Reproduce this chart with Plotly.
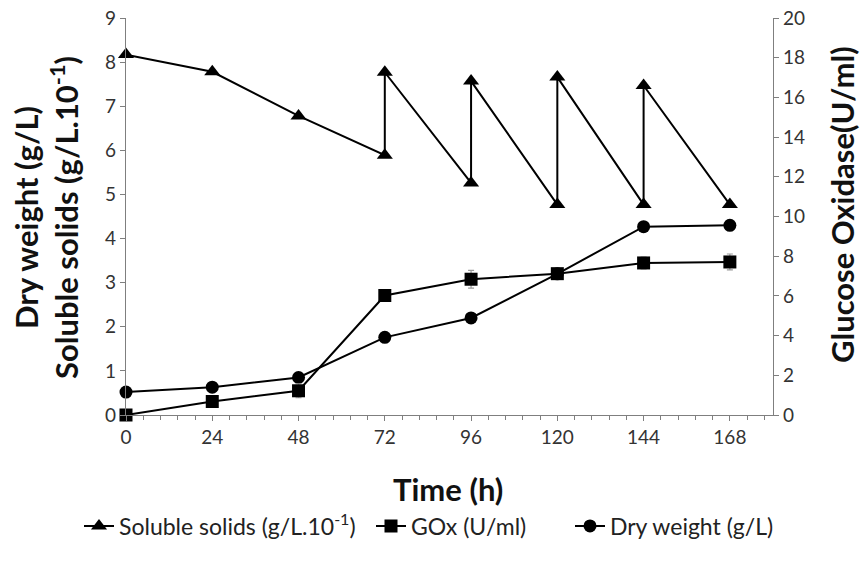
import plotly.graph_objects as go

# ---- data ----
ss_time = [0, 24, 48, 72, 72, 96, 96, 120, 120, 144, 144, 168]
ss_vals = [8.17, 7.78, 6.78, 5.89, 7.77, 5.26, 7.57, 4.77, 7.66, 4.77, 7.47, 4.77]

time = [0, 24, 48, 72, 96, 120, 144, 168]
gox_vals = [0.0, 0.68, 1.22, 6.02, 6.84, 7.12, 7.66, 7.71]
gox_err = [0.05, 0.3, 0.35, 0.3, 0.45, 0.2, 0.3, 0.4]
dw_vals = [0.52, 0.63, 0.85, 1.76, 2.2, 3.2, 4.27, 4.3]
dw_err = [0.03, 0.03, 0.04, 0.05, 0.05, 0.05, 0.05, 0.05]

x_ticks = [0, 24, 48, 72, 96, 120, 144, 168]

FONT = "Lato"
L, R, T, B = 126, 92, 18, 147
W, H = 865, 562
pw = W - L - R
ph = H - T - B

def px(xp):
    return (xp - L) / pw

def py(yp):
    return (H - B - yp) / ph

fig = go.Figure()
fig.add_trace(go.Scatter(
    x=ss_time, y=ss_vals, mode="lines+markers",
    name="Soluble solids (g/L.10<sup>-1</sup>)",
    line=dict(color="black", width=2),
    marker=dict(symbol="triangle-up", size=14, color="black"),
    cliponaxis=False, legend="legend"))
fig.add_trace(go.Scatter(
    x=time, y=gox_vals, mode="lines+markers", name="GOx (U/ml)", yaxis="y2",
    line=dict(color="black", width=2),
    marker=dict(symbol="square", size=13, color="black"),
    error_y=dict(type="data", array=gox_err, color="#9a9a9a", thickness=1.2, width=3),
    cliponaxis=False, legend="legend2"))
fig.add_trace(go.Scatter(
    x=time, y=dw_vals, mode="lines+markers", name="Dry weight (g/L)",
    line=dict(color="black", width=2),
    marker=dict(symbol="circle", size=13, color="black"),
    error_y=dict(type="data", array=dw_err, color="#9a9a9a", thickness=1.2, width=3),
    cliponaxis=False, legend="legend3"))

axis_common = dict(showgrid=False, zeroline=False, showline=True, linecolor="#7f7f7f",
                   linewidth=1.2, ticks="outside", tickcolor="#7f7f7f", ticklen=5,
                   tickfont=dict(family=FONT, size=19, color="#333333"))

leg_font = dict(family=FONT, size=23, color="#222222")

fig.update_layout(
    width=W, height=H, margin=dict(l=L, r=R, t=T, b=B, autoexpand=False),
    paper_bgcolor="white", plot_bgcolor="white",
    font=dict(family=FONT, color="#222222"),
    xaxis=dict(range=[0, 180], tickvals=x_ticks, ticktext=[str(v) for v in x_ticks],
               minor=dict(dtick=4.8, tick0=0, ticks="outside", ticklen=4, tickcolor="#7f7f7f"),
               **axis_common),
    yaxis=dict(range=[0, 9], dtick=1, **axis_common),
    yaxis2=dict(range=[0, 20], dtick=2, overlaying="y", side="right", **axis_common),
    showlegend=True,
    legend=dict(x=px(79), y=py(526), xanchor="left", yanchor="middle",
                font=leg_font, bgcolor="rgba(0,0,0,0)"),
    legend2=dict(x=px(371), y=py(526), xanchor="left", yanchor="middle",
                 font=leg_font, bgcolor="rgba(0,0,0,0)"),
    legend3=dict(x=px(570), y=py(526), xanchor="left", yanchor="middle",
                 font=leg_font, bgcolor="rgba(0,0,0,0)"),
    annotations=[
        dict(text="<b>Dry weight (g/L)<br>Soluble solids (g/L.10<sup>-1</sup>)</b>",
             xref="paper", yref="paper", x=px(46), y=py(218), textangle=-90,
             showarrow=False, align="center", xanchor="center", yanchor="middle",
             font=dict(family=FONT, size=31, color="#111111")),
        dict(text="<b>Glucose Oxidase(U/ml)</b>", xref="paper", yref="paper",
             x=px(842), y=py(205), textangle=-90, showarrow=False,
             xanchor="center", yanchor="middle",
             font=dict(family=FONT, size=31, color="#111111")),
        dict(text="<b>Time (h)</b>", xref="paper", yref="paper",
             x=px(448), y=py(489), showarrow=False, xanchor="center", yanchor="middle",
             font=dict(family=FONT, size=31, color="#111111")),
    ],
)

fig.write_html("out.html", config={"displayModeBar": False},
               post_script="document.body.style.margin='0px';")
